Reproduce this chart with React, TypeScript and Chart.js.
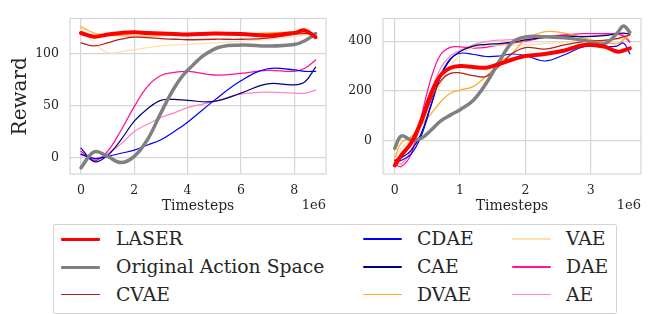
import { useEffect, useRef } from 'react';
import { Chart, registerables } from 'chart.js';

Chart.register(...registerables);

// ---------- data ----------
const seriesNames = ['LASER', 'Original Action Space', 'CVAE', 'CDAE', 'CAE', 'DVAE', 'VAE', 'DAE', 'AE'];
const seriesColors = ['#ff0000', '#808080', '#b22222', '#0000ff', '#000080', '#ffab2e', '#ffdfa6', '#ff1493', '#ff85c2'];

// left panel (timesteps in 1e6)
const leftT = [0, 0.5, 1, 1.5, 2, 2.5, 3, 3.5, 4, 5, 6, 7, 8, 8.4, 8.8];
const leftLASER = [120, 116.5, 118.6, 120, 120.7, 120, 119.5, 119, 118.6, 119.5, 119, 117.6, 120, 122.5, 116];
const leftOriginal = [-10, 5.4, 1, -5, 1, 17.4, 43, 67, 84, 104.5, 108.4, 107.5, 109, 112.6, 119.5];
const leftCVAE = [110.5, 107.5, 110.5, 114, 116, 115.5, 114.5, 114, 113.5, 114, 114, 115, 119, 119.5, 119];
const leftCDAE = [3, -1, 1, 4, 7, 12, 17, 25, 34, 55, 74, 85.5, 84.5, 83, 83];
const leftCAE = [9, -4, 2, 17, 35, 47, 55, 56, 55, 54, 62, 71, 70, 73, 87];
const leftDVAE = [126, 120, 118, 117.5, 117, 117, 117.5, 118, 118, 118.5, 119, 120, 121, 120, 119.5];
const leftVAE = [124, 110.5, 101, 102, 104, 106, 107.5, 108.5, 109, 110.5, 112, 114, 116.5, 118, 119];
const leftDAE = [6, -3, 6, 26, 49, 68.5, 79, 82, 83, 79.5, 81, 84, 83, 86, 94];
const leftAE = [4, -2, 4, 13, 25, 32, 38.5, 43, 48, 54, 61, 63, 62, 62, 65];

// right panel (timesteps in 1e6)
const rightT = [0, 0.1, 0.25, 0.4, 0.55, 0.7, 0.85, 1.0, 1.2, 1.4, 1.6, 1.8, 2.0, 2.3, 2.6, 2.9, 3.2, 3.4, 3.5, 3.6];
const rightLASER = [-100, -60, -10, 75, 185, 262, 292, 300, 296, 293, 308, 326, 340, 348, 362, 384, 378, 358, 362, 371];
const rightOriginal = [-32, 18, 3, 8, 40, 78, 102, 124, 161, 230, 318, 395, 417, 418, 413, 403, 389, 430, 461, 436];
const rightCVAE = [-81, -60, -10, 60, 160, 238, 270, 272, 261, 258, 300, 350, 374, 368, 385, 398, 403, 410, 417, 425];
const rightCDAE = [-89, -80, -55, 15, 135, 260, 328, 351, 347, 338, 340, 348, 342, 320, 345, 378, 377, 380, 392, 349];
const rightCAE = [-80, -70, -40, 25, 140, 255, 325, 358, 380, 387, 390, 396, 405, 415, 420, 418, 422, 430, 432, 428];
const rightDVAE = [-70, -10, 15, 60, 105, 155, 190, 203, 217, 258, 311, 352, 405, 438, 432, 412, 395, 390, 405, 430];
const rightVAE = [-70, -30, 5, 55, 140, 225, 300, 344, 375, 383, 384, 384, 384, 390, 395, 399, 403, 406, 410, 419];
const rightDAE = [-95, -105, -55, 90, 245, 345, 375, 377, 372, 375, 385, 392, 400, 415, 425, 430, 430, 428, 420, 395];
const rightAE = [-80, -95, -40, 60, 190, 290, 340, 362, 385, 398, 404, 406, 409, 420, 424, 419, 425, 432, 425, 400];

const leftSeries = [leftLASER, leftOriginal, leftCVAE, leftCDAE, leftCAE, leftDVAE, leftVAE, leftDAE, leftAE];
const rightSeries = [rightLASER, rightOriginal, rightCVAE, rightCDAE, rightCAE, rightDVAE, rightVAE, rightDAE, rightAE];

const leftXTicks = [0, 2, 4, 6, 8];
const leftYTicks = [0, 50, 100];
const rightXTicks = [0, 1, 2, 3];
const rightYTicks = [0, 200, 400];

const xLabel = 'Timesteps';
const yLabel = 'Reward';
const offsetLabel = '1e6';

// ---------- style ----------
const FONT = "'DejaVu Serif', serif";
const TEXT = '#262626';
const GRID = '#d6d6d6';
const lineWidths = [4, 3.5, 1.3, 1.2, 1.2, 1.3, 1.3, 1.3, 1.3];
const legendWidths = [3, 3, 1.5, 1.5, 1.5, 1.5, 1.5, 1.5, 1.5];

const framePlugin = {
  id: 'frame',
  afterDraw(chart: any) {
    const { ctx, chartArea } = chart;
    ctx.save();
    ctx.strokeStyle = GRID;
    ctx.lineWidth = 1.2;
    ctx.strokeRect(chartArea.left, chartArea.top, chartArea.right - chartArea.left, chartArea.bottom - chartArea.top);
    ctx.fillStyle = TEXT;
    ctx.font = `13px ${FONT}`;
    ctx.textAlign = 'right';
    ctx.textBaseline = 'middle';
    ctx.fillText(offsetLabel, chartArea.right, 206);
    ctx.restore();
  },
};

function makeConfig(
  xs: number[],
  series: number[][],
  xTicks: number[],
  yTicks: number[],
  xMin: number,
  xMax: number,
  yMin: number,
  yMax: number,
  yWidth: number,
  padRight: number,
  showYTitle: boolean
): any {
  return {
    type: 'line',
    data: {
      datasets: series.map((ys, i) => ({
        label: seriesNames[i],
        data: ys.map((y, j) => ({ x: xs[j], y })),
        borderColor: seriesColors[i],
        backgroundColor: seriesColors[i],
        borderWidth: lineWidths[i],
        pointRadius: 0,
        tension: 0.4,
        fill: false,
        borderCapStyle: 'round',
        borderJoinStyle: 'round',
      })),
    },
    options: {
      responsive: false,
      animation: false,
      events: [],
      layout: { padding: { left: 0, right: padRight, top: 7, bottom: 0 } },
      plugins: { legend: { display: false }, tooltip: { enabled: false } },
      scales: {
        x: {
          type: 'linear',
          min: xMin,
          max: xMax,
          afterBuildTicks: (s: any) => {
            s.ticks = xTicks.map((v) => ({ value: v }));
          },
          afterFit: (s: any) => {
            s.height = 48;
          },
          grid: { color: GRID, lineWidth: 1.2, drawTicks: false },
          border: { display: false },
          ticks: { color: TEXT, font: { family: FONT, size: 12.5 }, padding: 9, maxRotation: 0, callback: (v: any) => String(v) },
          title: { display: true, text: xLabel, color: TEXT, font: { family: FONT, size: 14 }, padding: { top: 0, bottom: 7.5 } },
        },
        y: {
          type: 'linear',
          min: yMin,
          max: yMax,
          afterBuildTicks: (s: any) => {
            s.ticks = yTicks.map((v) => ({ value: v }));
          },
          afterFit: (s: any) => {
            s.width = yWidth;
          },
          grid: { color: GRID, lineWidth: 1.2, drawTicks: false },
          border: { display: false },
          ticks: { color: TEXT, font: { family: FONT, size: 12.5 }, padding: 11, callback: (v: any) => String(v) },
          title: { display: showYTitle, text: yLabel, color: TEXT, font: { family: FONT, size: 20 }, padding: { top: 9, bottom: 0 } },
        },
      },
    },
    plugins: [framePlugin],
  };
}

function Panel(props: { left: number; width: number; cfg: () => any }) {
  const ref = useRef<HTMLCanvasElement | null>(null);
  useEffect(() => {
    if (!ref.current) return;
    const chart = new Chart(ref.current, props.cfg());
    return () => chart.destroy();
  }, []);
  return (
    <canvas
      ref={ref}
      width={props.width}
      height={222}
      style={{ position: 'absolute', left: props.left, top: 0, width: props.width, height: 222 }}
    />
  );
}

const legendCols = [
  { line: 61, text: 116 },
  { line: 363, text: 417 },
  { line: 512, text: 566 },
];
const legendRows = [239, 267, 294.5];

export default function App() {
  return (
    <div style={{ position: 'absolute', left: 0, top: 0, width: 652, height: 314, background: '#fff', overflow: 'hidden' }}>
      <Panel
        left={0}
        width={335}
        cfg={() => makeConfig(leftT, leftSeries, leftXTicks, leftYTicks, -0.41, 9.19, -16, 134, 70, 9, true)}
      />
      <Panel
        left={335}
        width={317}
        cfg={() => makeConfig(rightT, rightSeries, rightXTicks, rightYTicks, -0.18, 3.77, -135, 491, 48, 11, false)}
      />
      <div
        style={{
          position: 'absolute',
          left: 53,
          top: 224,
          width: 562,
          height: 88,
          border: '1px solid #d4d4d4',
          borderRadius: 2,
          background: '#fff',
        }}
      />
      {seriesNames.map((name, i) => {
        const col = legendCols[Math.floor(i / 3)];
        const row = legendRows[i % 3];
        return (
          <div key={name}>
            <div
              style={{
                position: 'absolute',
                left: col.line,
                top: row - legendWidths[i] / 2,
                width: 39,
                height: legendWidths[i],
                background: seriesColors[i],
                borderRadius: 1,
              }}
            />
            <div
              style={{
                position: 'absolute',
                left: col.text,
                top: row - 12,
                height: 24,
                lineHeight: '24px',
                fontFamily: FONT,
                fontSize: 18.8,
                color: TEXT,
                whiteSpace: 'nowrap',
              }}
            >
              {name}
            </div>
          </div>
        );
      })}
    </div>
  );
}
